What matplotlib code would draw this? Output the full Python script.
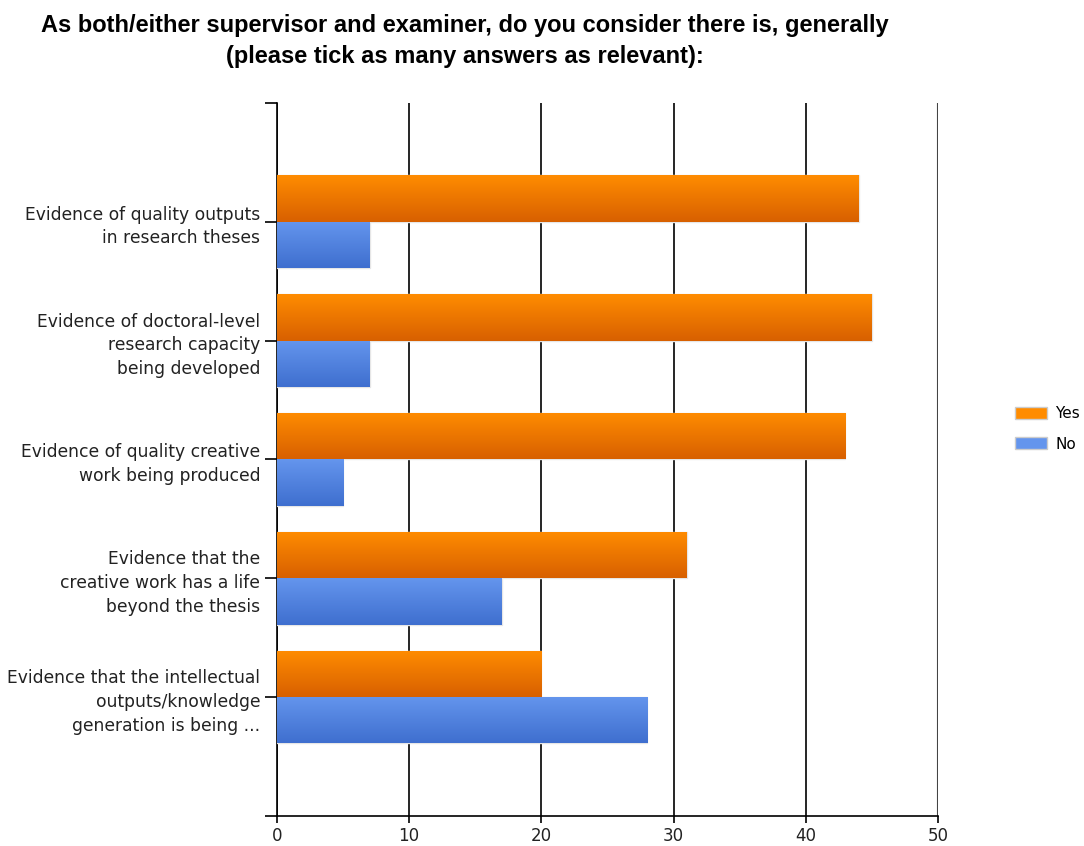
import numpy as np
import matplotlib
matplotlib.use("Agg")
import matplotlib.pyplot as plt
from matplotlib.colors import LinearSegmentedColormap

title = ("As both/either supervisor and examiner, do you consider there is, generally\n"
         "(please tick as many answers as relevant):")
categories = [
    "Evidence of quality outputs\nin research theses",
    "Evidence of doctoral-level\nresearch capacity\nbeing developed",
    "Evidence of quality creative\nwork being produced",
    "Evidence that the\ncreative work has a life\nbeyond the thesis",
    "Evidence that the intellectual\noutputs/knowledge\ngeneration is being ...",
]
yes_values = [44, 45, 43, 31, 20]
no_values = [7, 7, 5, 17, 28]
series_names = ["Yes", "No"]
x_ticks = [0, 10, 20, 30, 40, 50]

orange_top, orange_bot = "#FF8C00", "#D86000"
blue_top, blue_bot = "#6495ED", "#3F6FCF"

fig = plt.figure(figsize=(10.84, 8.46), dpi=100)
ax = fig.add_axes([0.2555, 0.0355, 0.6098, 0.8428])

pos = np.arange(1, len(categories) + 1)
h = 0.39
b_yes = ax.barh(pos - h / 2, yes_values, height=h, color=orange_top,
                edgecolor="#e6e6e6", linewidth=1.0, zorder=3, label=series_names[0])
b_no = ax.barh(pos + h / 2, no_values, height=h, color=blue_top,
               edgecolor="#e6e6e6", linewidth=1.0, zorder=3, label=series_names[1])

grad = np.linspace(0, 1, 64).reshape(-1, 1)
for bars, top, bot in [(b_yes, orange_top, orange_bot), (b_no, blue_top, blue_bot)]:
    cmap = LinearSegmentedColormap.from_list("g", [top, bot])
    for p in bars:
        x0, y0 = p.get_x(), p.get_y()
        w, hh = p.get_width(), p.get_height()
        im = ax.imshow(grad, cmap=cmap, aspect="auto",
                       extent=[x0, x0 + w, y0 + hh, y0], origin="upper",
                       zorder=3.5, interpolation="bilinear")
        im.set_clip_path(p)

ax.set_xlim(0, 50)
ax.set_ylim(6, 0)
ax.set_xticks(x_ticks)
ax.set_xticklabels([str(t) for t in x_ticks])
ax.set_yticks(list(range(0, 7)))
ax.set_yticklabels([""] + categories + [""], ha="right", linespacing=1.4)

ax.grid(axis="x", color="black", linewidth=1.2, zorder=1)
ax.set_axisbelow(True)
for s in ["top", "right"]:
    ax.spines[s].set_visible(False)
ax.spines["left"].set_linewidth(1.2)
ax.spines["bottom"].set_linewidth(1.2)
ax.tick_params(axis="y", length=9, width=1.2, pad=3, labelsize=12.3, labelcolor="#222222")
ax.tick_params(axis="x", length=5, width=1.2, pad=3, labelsize=12, labelcolor="#222222")
gl = ax.get_xgridlines()
gl[-1].set_color("#444444")
gl[-1].set_linewidth(1.5)

fig.text(0.429, 0.984, title, ha="center", va="top", fontsize=17,
         fontweight="bold", family="Liberation Sans", linespacing=1.45)

leg = fig.legend(handles=[b_yes, b_no], labels=series_names,
                 loc="center left", bbox_to_anchor=(0.931, 0.493),
                 frameon=False, fontsize=11, handlelength=2.1, handleheight=0.8,
                 handletextpad=0.5, labelspacing=1.0, borderaxespad=0)
for h_, c in zip(leg.legend_handles, [orange_top, blue_top]):
    h_.set_facecolor(c)
    h_.set_edgecolor("#cccccc")

fig.savefig("out.png", dpi=100)
